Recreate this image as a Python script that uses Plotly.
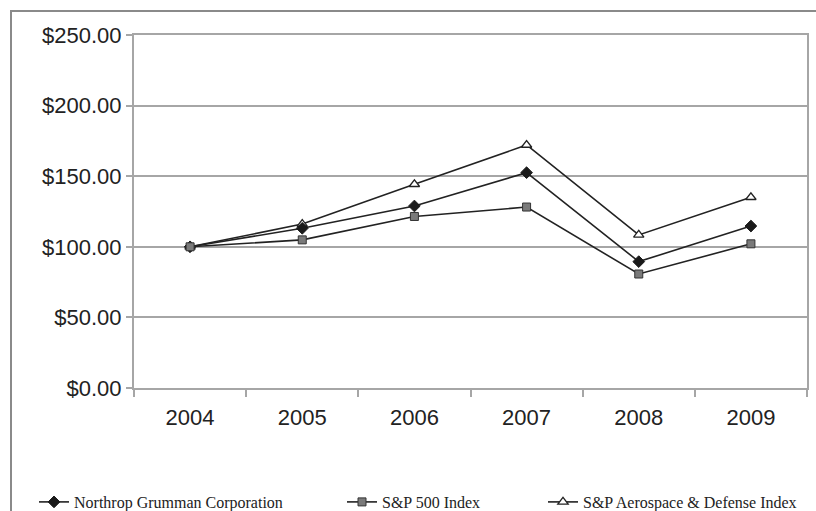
import plotly.graph_objects as go

years = ["2004", "2005", "2006", "2007", "2008", "2009"]
northrop = [100.0, 113.1, 128.9, 152.5, 89.5, 114.7]
sp500 = [100.0, 104.91, 121.48, 128.16, 80.74, 102.11]
aero_def = [100.0, 116.1, 144.3, 172.1, 108.4, 135.1]
y_ticks = [0, 50, 100, 150, 200, 250]
y_tick_labels = ["$0.00", "$50.00", "$100.00", "$150.00", "$200.00", "$250.00"]

W, H = 816, 511
L, R, T, B = 134, 807, 35, 388  # plot-area edges in pixels


def px_x(x):
    return (x - L) / (R - L)


def px_y(y):
    return (B - y) / (B - T)


line_col = "#222222"
grid_col = "#a6a6a6"

fig = go.Figure()
# Drawn back to front: the S&P 500 squares sit on top where the series meet.
fig.add_trace(go.Scatter(
    x=years, y=aero_def, name="S&P Aerospace & Defense Index",
    mode="lines+markers", legend="legend3",
    line=dict(color=line_col, width=1.6),
    marker=dict(symbol="triangle-up", size=9, color="white",
                line=dict(color="#222222", width=1.3)),
))
fig.add_trace(go.Scatter(
    x=years, y=northrop, name="Northrop Grumman Corporation",
    mode="lines+markers", legend="legend",
    line=dict(color=line_col, width=1.6),
    marker=dict(symbol="diamond", size=9, color="#1a1a1a",
                line=dict(color="#1a1a1a", width=1)),
))
fig.add_trace(go.Scatter(
    x=years, y=sp500, name="S&P 500 Index",
    mode="lines+markers", legend="legend2",
    line=dict(color=line_col, width=1.6),
    marker=dict(symbol="square", size=8, color="#7a7a7a",
                line=dict(color="#333333", width=1)),
))

legend_font = dict(family="Liberation Serif", size=16, color="#222222")
legend_y = px_y(502)


def legend_at(x_px):
    return dict(x=px_x(x_px), y=legend_y, xanchor="left", yanchor="middle",
                orientation="h", bgcolor="rgba(0,0,0,0)", borderwidth=0,
                font=legend_font)


fig.update_layout(
    width=W, height=H,
    margin=dict(l=L, r=W - R, t=T, b=H - B, autoexpand=False),
    paper_bgcolor="white", plot_bgcolor="white",
    showlegend=True,
    legend=legend_at(34),
    legend2=legend_at(342),
    legend3=legend_at(543),
    xaxis=dict(
        type="category", range=[-0.5, len(years) - 0.5],
        tickson="boundaries", ticks="outside", ticklen=7,
        tickcolor=grid_col, tickwidth=1.5, ticklabelstandoff=9,
        showline=True, linecolor=grid_col, linewidth=2, mirror=True,
        showgrid=False, zeroline=False,
        tickfont=dict(family="Liberation Sans", size=22, color="#222222"),
    ),
    yaxis=dict(
        range=[0, 250], tickmode="array",
        tickvals=y_ticks, ticktext=y_tick_labels,
        ticks="outside", ticklen=6, tickcolor=grid_col, tickwidth=1.5,
        showline=True, linecolor=grid_col, linewidth=2, mirror=True,
        showgrid=True, gridcolor=grid_col, gridwidth=2, zeroline=False,
        tickfont=dict(family="Liberation Sans", size=22, color="#222222"),
    ),
    shapes=[dict(
        type="rect", xref="paper", yref="paper",
        x0=px_x(11), y0=px_y(560), x1=px_x(860), y1=px_y(11),
        line=dict(color="#8a8a8a", width=2), fillcolor="rgba(0,0,0,0)",
        layer="below",
    )],
)

fig.write_html("out.html")
